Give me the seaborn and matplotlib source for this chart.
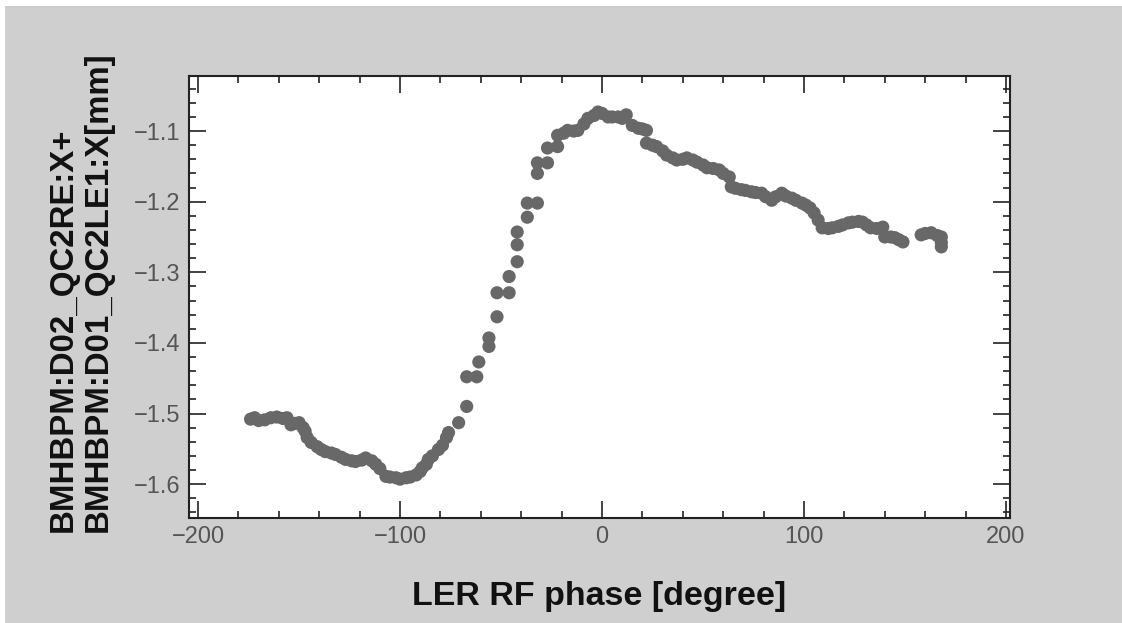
import matplotlib
matplotlib.use("Agg")
import matplotlib.pyplot as plt
from matplotlib.patches import Rectangle
from matplotlib.ticker import MultipleLocator
import seaborn as sns
import pandas as pd

phase = [-174, -172, -170, -167, -164, -161, -158, -156, -154, -152, -150, -148, -147, -146,
         -144, -141, -139, -137, -134, -132, -129, -127, -124, -122, -119, -117, -114, -112,
         -110, -107, -105, -102, -100, -97, -95, -92, -90, -89, -87, -86, -84, -81, -79, -77,
         -76, -71, -67, -67, -62, -61, -56, -56, -52, -52, -46, -46, -42, -42, -42, -37, -37,
         -32, -32, -32, -27, -27, -22, -22, -19, -17, -14, -12, -9, -7, -4, -2, 0, 3, 5, 8, 10,
         12, 15, 18, 20, 22, 22, 25, 27, 30, 32, 35, 37, 40, 42, 45, 47, 50, 52, 55, 58, 60,
         63, 64, 66, 69, 71, 74, 76, 79, 81, 84, 86, 89, 91, 94, 96, 99, 101, 103, 105, 107,
         109, 112, 114, 117, 119, 122, 124, 127, 129, 131, 133, 136, 139, 140, 143, 145, 147,
         149, 158, 160, 163, 166, 168, 168, 168]
position = [-1.508, -1.506, -1.510, -1.509, -1.506, -1.505, -1.507, -1.506, -1.516, -1.514,
            -1.513, -1.520, -1.525, -1.534, -1.541, -1.547, -1.551, -1.554, -1.556, -1.558,
            -1.562, -1.565, -1.567, -1.568, -1.566, -1.563, -1.567, -1.572, -1.578, -1.589,
            -1.590, -1.591, -1.593, -1.591, -1.590, -1.587, -1.582, -1.577, -1.572, -1.565,
            -1.560, -1.551, -1.545, -1.534, -1.527, -1.513, -1.490, -1.448, -1.448, -1.427,
            -1.405, -1.393, -1.363, -1.329, -1.329, -1.306, -1.285, -1.261, -1.243, -1.222,
            -1.202, -1.202, -1.160, -1.145, -1.145, -1.124, -1.122, -1.106, -1.103, -1.099,
            -1.100, -1.099, -1.090, -1.082, -1.078, -1.073, -1.075, -1.080, -1.080, -1.080,
            -1.082, -1.077, -1.092, -1.096, -1.097, -1.099, -1.117, -1.120, -1.122, -1.128,
            -1.134, -1.138, -1.141, -1.140, -1.138, -1.141, -1.144, -1.148, -1.152, -1.153,
            -1.155, -1.160, -1.165, -1.179, -1.181, -1.183, -1.184, -1.186, -1.187, -1.188,
            -1.193, -1.198, -1.193, -1.188, -1.192, -1.195, -1.198, -1.202, -1.205, -1.209,
            -1.216, -1.226, -1.237, -1.238, -1.237, -1.235, -1.233, -1.230, -1.229, -1.228,
            -1.229, -1.233, -1.237, -1.238, -1.236, -1.250, -1.250, -1.251, -1.254, -1.257,
            -1.247, -1.245, -1.244, -1.248, -1.250, -1.258, -1.264]

x_ticks = [-200, -100, 0, 100, 200]
y_ticks = [-1.6, -1.5, -1.4, -1.3, -1.2, -1.1]
x_label = "LER RF phase [degree]"
y_label = "BMHBPM:D02_QC2RE:X+\nBMHBPM:D01_QC2LE1:X[mm]"

df = pd.DataFrame({"phase": phase, "position": position})

sns.set_style("white")
plt.rcParams["font.family"] = ["Liberation Sans", "DejaVu Sans"]

W, H = 1122, 623
fig = plt.figure(figsize=(W / 100, H / 100), dpi=100, facecolor="white")
fig.patches.append(Rectangle((5 / W, -0.1), 1.2, 1.1 - 6 / H, transform=fig.transFigure,
                             facecolor="#cfcfcf", edgecolor="none", zorder=-10))

ax = fig.add_axes([189 / W, 1 - 518 / H, (1010 - 189) / W, (518 - 76) / H])
ax.set_facecolor("white")
sns.scatterplot(data=df, x="phase", y="position", ax=ax, marker="o", s=90,
                color="#686868", edgecolor="none", legend=False)

ax.set_xlim(-204.5, 202)
ax.set_ylim(-1.648, -1.022)
ax.set_xticks(x_ticks)
ax.set_yticks(y_ticks)
ax.set_xticklabels([f"{v}".replace("-", "\u2212") for v in x_ticks])
ax.set_yticklabels([f"{v:.1f}".replace("-", "\u2212") for v in y_ticks])
ax.xaxis.set_minor_locator(MultipleLocator(20))
ax.yaxis.set_minor_locator(MultipleLocator(0.02))
ax.tick_params(which="both", direction="in", top=True, right=True, bottom=True, left=True,
               color="#222222", width=1.2)
ax.tick_params(which="major", length=12.5, labelsize=17, labelcolor="#555555", pad=6)
ax.tick_params(which="minor", length=5)
for sp in ax.spines.values():
    sp.set_color("#222222")
    sp.set_linewidth(1.5)

ax.set_xlabel(x_label, fontsize=24.5, fontweight="bold", color="#111111", va="center")
ax.xaxis.set_label_coords(0.5, -(597 - 518) / (518 - 76))
ax.set_ylabel("")
fig.text(81 / W, 1 - 532 / H, y_label, rotation=90, ha="center", va="bottom",
         multialignment="left", fontsize=23.8, fontweight="bold", color="#111111",
         linespacing=1.15)

fig.savefig("out.png", dpi=100, facecolor=fig.get_facecolor())
